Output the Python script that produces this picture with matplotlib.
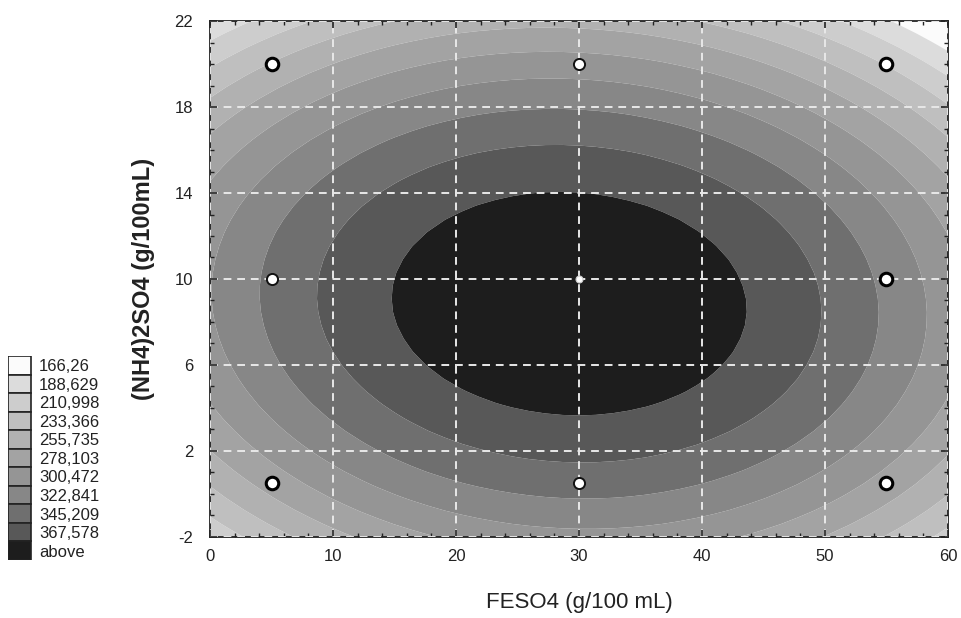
import numpy as np
import matplotlib
matplotlib.use('Agg')
import matplotlib.pyplot as plt
from matplotlib.patches import Rectangle

plt.rcParams['font.family'] = ['Liberation Sans', 'DejaVu Sans']
plt.rcParams['axes.unicode_minus'] = False

# design points (FeSO4, (NH4)2SO4) and response
feso4 = [5, 5, 5, 30, 30, 30, 55, 55, 55]
nh4so4 = [0.5, 10, 20, 0.5, 10, 20, 0.5, 10, 20]
response = [264.9, 327.5, 234.7, 332.9, 388.4, 288.1, 269.1, 317.3, 209.6]

# contour bounds as shown in the legend
bounds = [166.26, 188.629, 210.998, 233.366, 255.735, 278.103,
          300.472, 322.841, 345.209, 367.578]
legend_labels = ['166,26', '188,629', '210,998', '233,366', '255,735', '278,103',
                 '300,472', '322,841', '345,209', '367,578', 'above']
fill_colors = ['#fbfbfb', '#dcdcdc', '#cdcdcd', '#bfbfbf', '#b1b1b1', '#a3a3a3',
               '#959595', '#878787', '#6f6f6f', '#585858', '#1d1d1d']

x_ticks = [0, 10, 20, 30, 40, 50, 60]
y_ticks = [-2, 2, 6, 10, 14, 18, 22]


def quad_terms(x, y):
    return np.column_stack([np.ones_like(x), x, y, x * x, y * y, x * y])


# second order response surface fitted to the design points
px = np.array(feso4, dtype=float)
py = np.array(nh4so4, dtype=float)
coef, *_ = np.linalg.lstsq(quad_terms(px, py), np.array(response), rcond=None)

gx, gy = np.meshgrid(np.linspace(0, 60, 45), np.linspace(-2, 22, 40))
gz = (quad_terms(gx.ravel(), gy.ravel()) @ coef).reshape(gx.shape)

fig = plt.figure(figsize=(9.62, 6.18), dpi=100)
ax = fig.add_axes([0.2183, 0.1311, 0.7671, 0.8349])

levels = [min(gz.min(), bounds[0]) - 1] + bounds + [max(gz.max(), bounds[-1]) + 1]
ax.contourf(gx, gy, gz, levels=levels, colors=fill_colors, antialiased=True)

ax.set_xlim(0, 60)
ax.set_ylim(-2, 22)
ax.set_xticks(x_ticks)
ax.set_yticks(y_ticks)
ax.set_xticks(np.arange(0, 61, 2), minor=True)
ax.set_yticks(np.arange(-2, 23, 1), minor=True)
ax.tick_params(which='both', direction='in', top=True, right=True, labelsize=12, color='#222222',
               labelcolor='#222222')
ax.tick_params(which='major', length=5, width=1.2)
ax.tick_params(which='minor', length=3, width=1)
ax.tick_params(axis='x', pad=9)
ax.tick_params(axis='y', pad=12)
for s in ax.spines.values():
    s.set_linewidth(1.3)
    s.set_color('#222222')

ax.grid(True, which='major', color='#e8e8e8', linestyle=(0, (4, 3)), linewidth=1.4)
ax.set_axisbelow(False)

big = [0, 2, 6, 8, 7]
mid = [1, 3, 5]
ax.plot([feso4[i] for i in big], [nh4so4[i] for i in big], 'o', ms=9, mfc='white',
        mec='black', mew=2.2, zorder=5, linestyle='none')
ax.plot([feso4[i] for i in mid], [nh4so4[i] for i in mid], 'o', ms=8, mfc='white',
        mec='#111111', mew=1.4, zorder=5, linestyle='none')
ax.plot([feso4[4]], [nh4so4[4]], 'o', ms=5, mfc='white', mec='#cccccc', mew=0.8, zorder=5)

ax.set_xlabel('FESO4 (g/100 mL)', fontsize=16, labelpad=20, color='#222222')
ax.set_ylabel('(NH4)2SO4 (g/100mL)', fontsize=17, fontweight='bold', labelpad=14, color='#222222')

# legend on the left
lax = fig.add_axes([0.008, 0.094, 0.13, 0.33])
lax.set_xlim(0, 1)
lax.set_ylim(len(fill_colors), 0)
lax.axis('off')
for i, (c, lab) in enumerate(zip(fill_colors, legend_labels)):
    lax.add_patch(Rectangle((0, i), 0.19, 1, facecolor=c, edgecolor='#222222', linewidth=1.2))
    lax.text(0.25, i + 0.58, lab, fontsize=12, va='center', ha='left', color='#222222')

fig.savefig('out.png', dpi=100)
